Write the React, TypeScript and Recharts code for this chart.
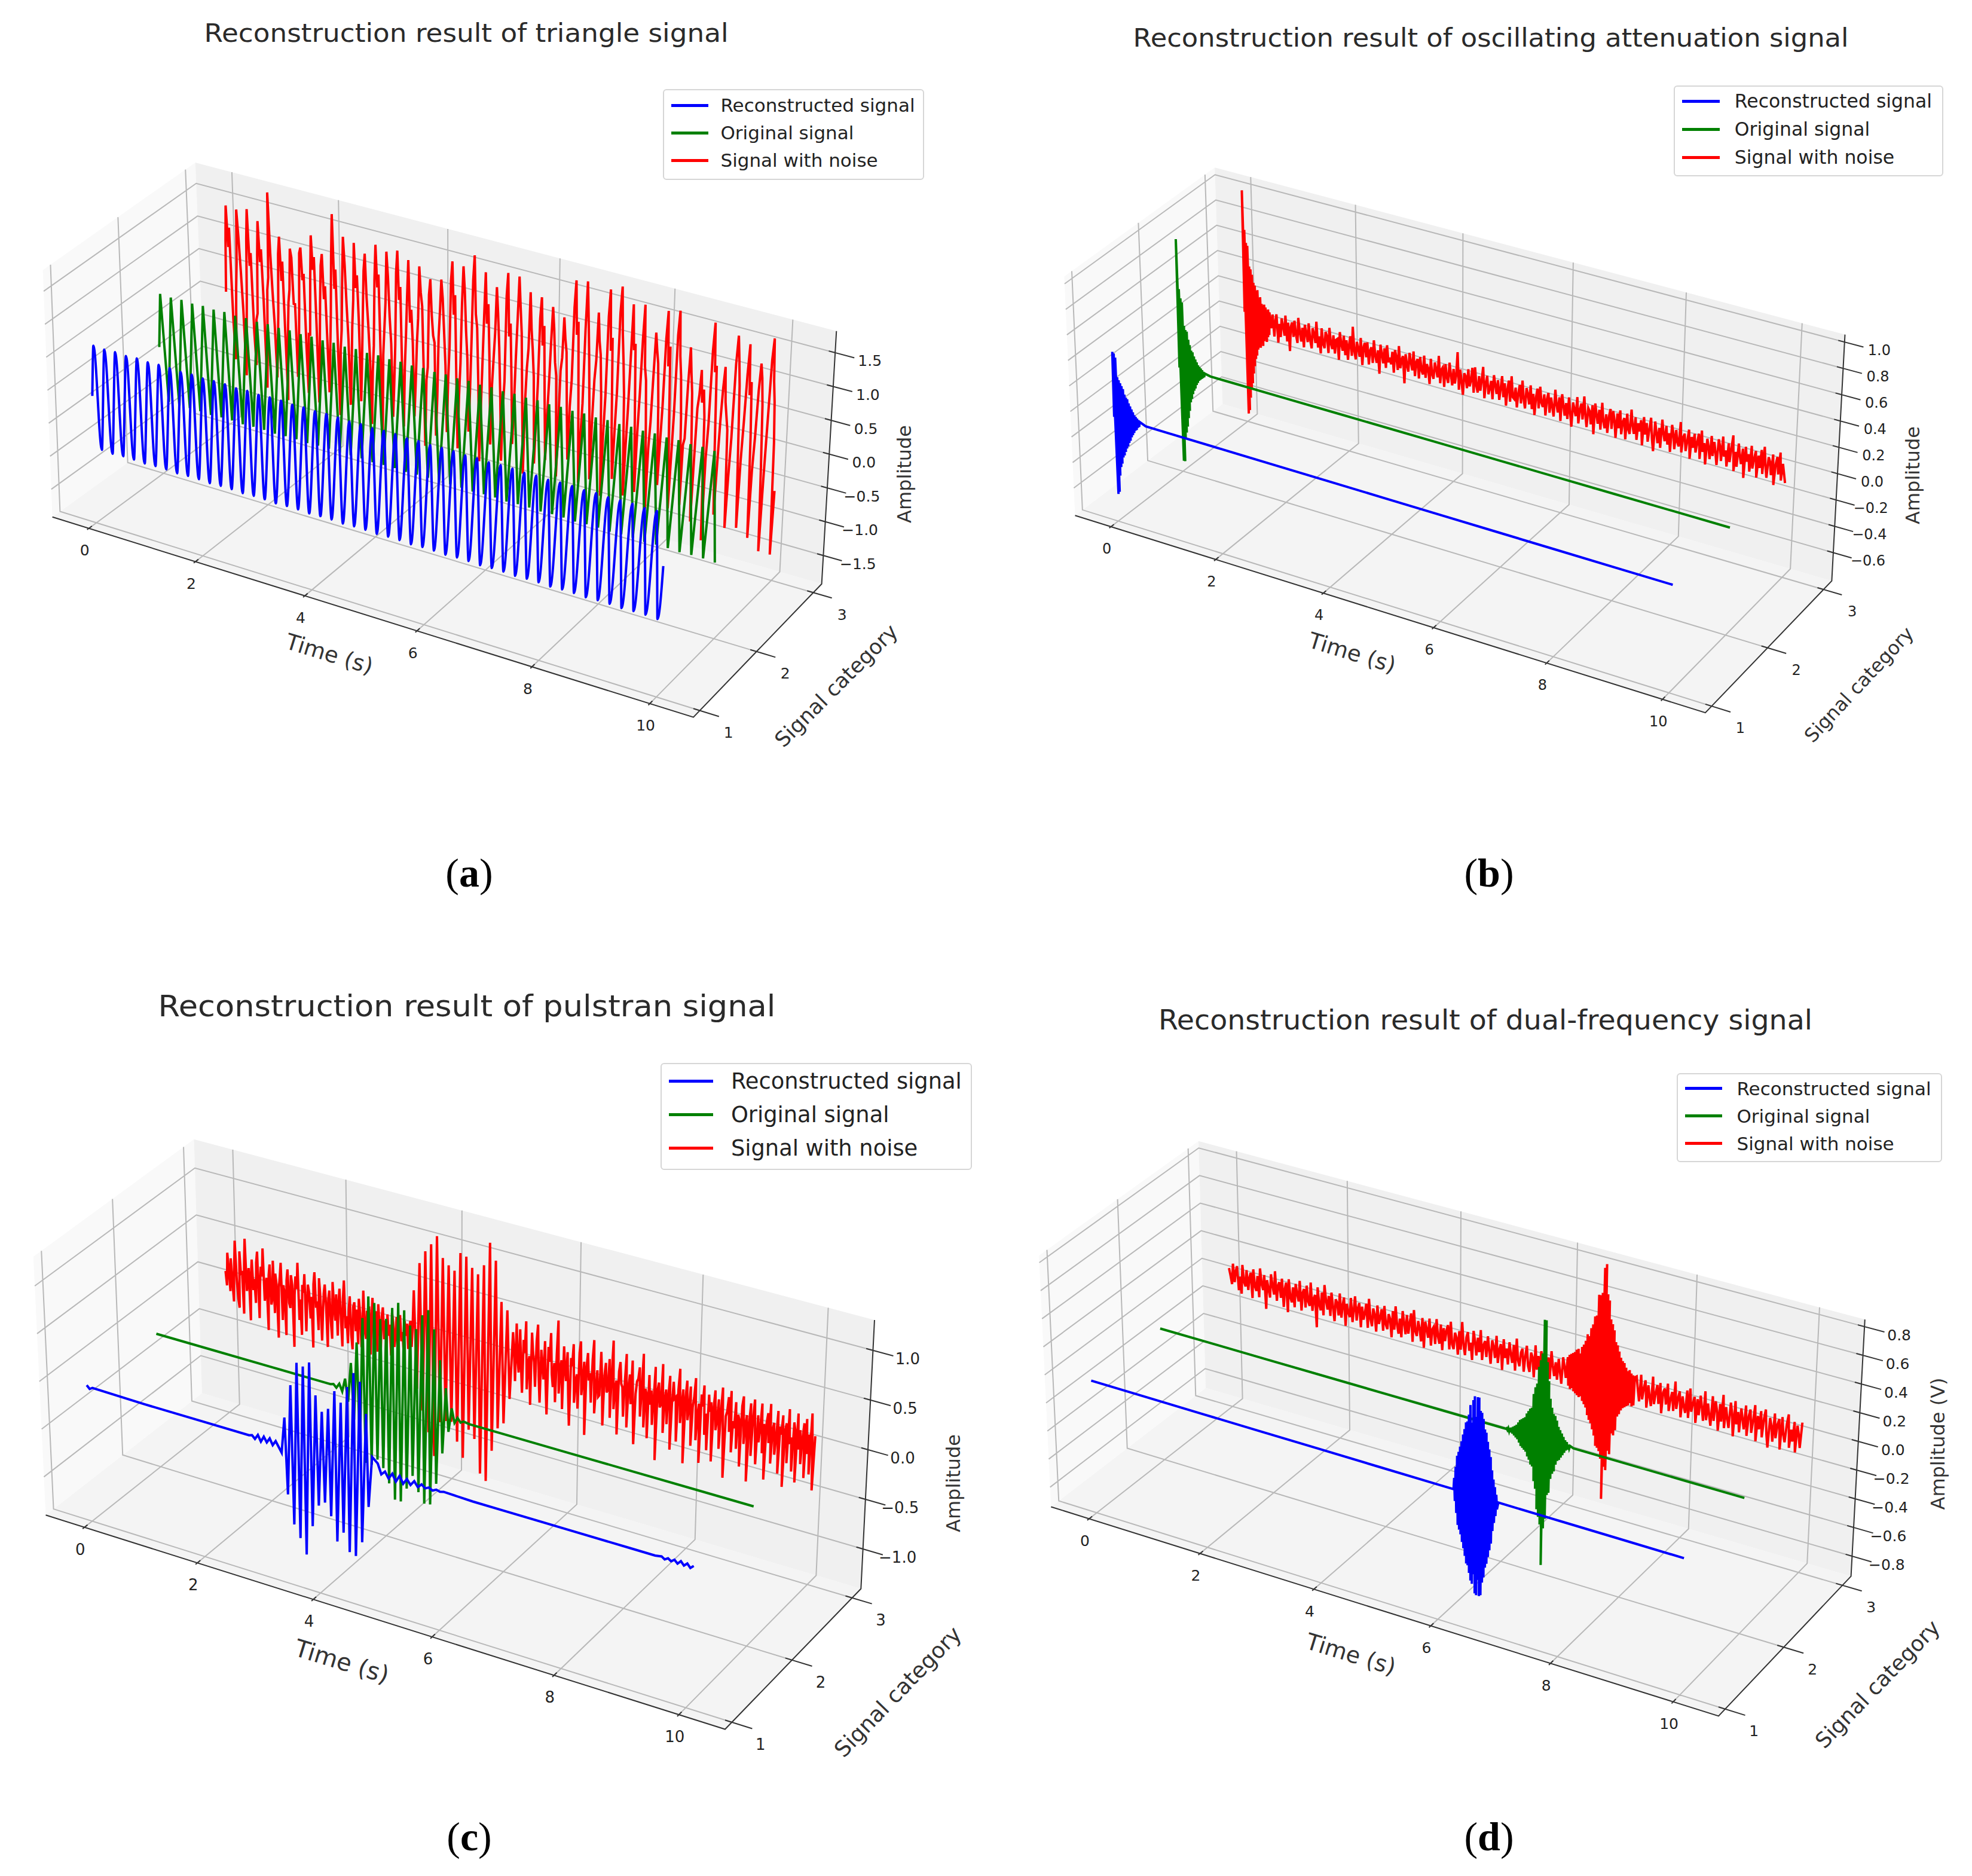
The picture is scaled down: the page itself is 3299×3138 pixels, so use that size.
import React from 'react';
import { LineChart, Line, XAxis, YAxis, Legend, Customized } from 'recharts';

type Pt = { t: number; a: number };
const seg = (from: number, step: number, values: number[]): Pt[] =>
  values.map((a, i) => ({ t: from + i * step, a }));

const seriesNames = ['Reconstructed signal', 'Original signal', 'Signal with noise'];
const seriesColors = ['#0000ff', '#008000', '#ff0000'];
const timeTicks = [0, 2, 4, 6, 8, 10];
const categoryTicks = [1, 2, 3];

// (a) triangle: one value per half period
const triangleBlue = [
  .77,-.78,.76,-.79,.77,-.78,.76,-.78,.77,-.79,.76,-.78,.77,-.78,.77,-.79,.76,-.78,.77,-.78,
  .76,-.79,.77,-.78,.77,-.78,.76,-.79,.77,-.78,.76,-.78,.77,-.79,.77,-.78,.76,-.78,.77,-.79,
  .76,-.78,.77,-.78,.77,-.79,.76,-.78,.77,-.78,.76,-.79,.77,-.78,.77,-.78,.76,-.79,.77,-.78,
  .76,-.78,.77,-.79,.77,-.78,.76,-.78,.77,-.79,.76,-.78,.77,-.78,.77,-.79,.76,-.78,.77,-.78,
  .76,-.79,.77,-.78,.77,-.78,.76,-.79,.77,-.78,.76,-.78,.77,-.79,.77,-.78,.76,-.78,.77,-.79,
];
const triangleGreen = [
  .82,-.8,.81,-.81,.82,-.8,.81,-.8,.82,-.81,.81,-.8,.82,-.8,.81,-.81,.82,-.8,.81,-.8,
  .82,-.81,.81,-.8,.82,-.8,.81,-.81,.82,-.8,.81,-.8,.82,-.81,.81,-.8,.82,-.8,.81,-.81,
  .82,-.8,.81,-.8,.82,-.81,.81,-.8,.82,-.8,.81,-.81,.82,-.8,.81,-.8,.82,-.81,.81,-.8,
  .82,-.8,.81,-.81,.82,-.8,.81,-.8,.82,-.81,.81,-.8,.82,-.8,.81,-.81,.82,-.8,.81,-.8,
  .82,-.81,.81,-.8,.82,-.8,.81,-.81,.82,-.8,.81,-.8,.82,-.81,.81,-.8,.82,-.8,.81,-.81,
];
// eight samples per period, peak on the third and trough on the seventh
const triangleRed = [
  .1,.9,1.43,.8,1.1,-.3,-.9,-.4, .2,.6,1.41,1,.5,-.1,-1.1,-.5, .1,1,1.46,.6,.8,-.4,-.9,-.2, -.1,.8,1.32,.7,.9,.1,-1.2,-.6,
  .3,.5,1.8,.9,.3,-.2,-1,-.5, 0,.9,1.17,.5,.8,-.3,-1.3,-.3, .2,.4,1.03,.9,.2,.2,-.9,-.6, .1,1,1.09,.6,.7,-.4,-1.1,-.2,
  -.2,.7,1.32,.8,1,0,-1.2,-.5, .3,.9,1.08,.4,.6,-.2,-1,-.4, .2,1.1,1.73,.6,.9,-.3,-1.3,-.3, 0,.8,1.43,1,.4,-.1,-1.1,-.6,
  .1,.5,1.38,.7,.9,.2,-1,-.4, .3,1,1.26,.6,.2,-.3,-1.3,-.5, -.1,.9,1.44,.8,1,-.2,-1.4,-.2, .2,.6,1.38,1,.4,0,-1.1,-.6,
  0,1.1,1.44,.7,.9,-.4,-1.2,-.3, .2,.8,1.34,.4,.6,.1,-1,-.5, .1,.5,1.29,.9,.7,-.3,-1.4,-.4, -.2,.9,1.14,.6,.3,.2,-1.2,-.6,
  .3,.7,1.18,.9,.4,-.1,-1.1,-.3, .2,1.2,1.5,.7,1,-.3,-1.3,-.5, 0,.9,1.47,1.1,.5,.1,-1,-.4, .4,1.3,1.68,.8,.6,-.2,-1.4,-.6,
  .1,.8,1.47,.7,1,.2,-1.1,-.2, .2,.6,1.29,.9,.4,-.3,-1.3,-.5, -.1,1.2,1.55,.6,.8,0,-1,-.4, .3,.9,1.54,1.1,.7,-.4,-1.4,-.3,
  .2,.5,1.35,.8,.5,.1,-1.2,-.6, 0,1,1.32,.6,.9,-.2,-1.1,-.4, .1,.7,1.22,.9,.4,.2,-1.3,-.5, .3,.5,1.11,.8,.6,-.3,-1,-.2,
  .2,1.3,1.71,.9,1.1,0,-1.3,-.6, -.1,1,1.74,1.2,.6,-.2,-1.2,-.3, .3,.6,1.32,.9,.7,.1,-1.4,-.5, .1,1.3,1.71,.8,1,-.4,-1.1,-.4,
  .2,1.4,1.8,1.1,.7,.2,-1.3,-.6, 0,.8,1.58,.9,1,-.1,-1.2,-.3, .3,1.1,1.62,.7,.5,-.3,-1.4,-.5, -.1,.6,1.25,1,.8,.2,-1,-.4,
  .2,1.2,1.62,.8,1.1,-.2,-1.3,-.6, .1,1.3,1.67,1,.7,.1,-1.2,-.3, -.2,.6,1.17,.8,.5,-.4,-1.4,-.5, .3,.5,.88,.4,.6,.2,-1.63,-.4,
  .1,1.2,1.63,.9,1,-.3,-1.2,-.5, .2,.7,1.02,.5,.3,.1,-1.35,-.6, 0,1.1,1.53,1.2,.8,-.2,-1.3,-.3, .3,1,1.45,.7,.9,.1,-1.4,-.4,
  .1,.8,1.21,1,.6,-.3,-1.55,-.5, .4,1.3,1.63,1,.7,.1,-1.55,-.6,
];

// (b) oscillating attenuation
const decayBlue = [
  0,.51,-.6,.5,-.58,.47,-.45,.32,-.38,.3,-.35,.28,-.3,.26,-.28,.24,-.25,.2,-.22,.18,
  -.2,.17,-.17,.14,-.15,.12,-.12,.1,-.1,.08,-.08,.06,-.06,.05,-.05,.04,-.03,.03,-.02,.02,
];
const decayGreen = [
  0,1.01,-.73,.62,-.73,.55,-.55,.52,-.5,.34,-.45,.31,-.38,.3,-.32,.24,-.25,.2,-.22,.16,
  -.18,.15,-.15,.12,-.13,.1,-.1,.08,-.08,.06,-.06,.05,-.05,.04,-.04,.03,-.03,.02,-.02,.01,
];
const decayRedBurst = [
  .05,1.01,-.75,.7,-.72,.6,-.62,.58,-.55,.42,-.5,.4,-.42,.36,-.36,.3,-.3,.28,-.27,.24,
  -.22,.25,-.2,.18,-.2,.2,-.16,.15,-.18,.14,-.14,.15,-.12,.13,-.14,.1,-.1,.12,-.08,.1,
];
const decayRedTail = [
  .06,-.02,.09,-.08,.04,.1,-.12,.03,-.07,.08,.02,-.05,.11,-.09,.06,-.16,.03,.07,-.04,.09,
  -.02,-.08,.12,.01,-.06,.05,-.1,.08,.02,-.05,.1,-.03,-.09,.07,.03,-.04,.13,-.07,.02,-.11,
  .09,-.03,-.06,.07,.04,-.09,.11,-.01,-.05,.06,-.08,.03,.04,-.12,.1,.01,-.04,.08,-.07,.05,
  -.1,.02,.09,-.06,.17,-.02,-.08,.06,.01,-.05,.1,-.11,.03,.07,-.04,.08,-.09,.02,.05,-.07,
  .11,-.01,-.06,.04,-.14,.09,.02,-.05,.07,-.08,.1,-.03,.01,-.04,.06,-.1,.08,.03,-.07,.12,
  -.05,.02,.05,-.16,.07,-.01,-.06,.09,.02,-.04,.11,-.08,.03,.06,-.09,.08,-.02,-.05,.1,-.07,
  .04,.01,-.11,.09,-.03,-.06,.07,.02,-.04,.13,-.08,.03,.05,-.1,.08,-.02,-.06,.1,.01,-.07,
  .06,-.05,.02,.2,-.09,.07,-.02,-.12,.05,.03,-.06,.09,-.04,.01,.11,-.08,.12,-.02,-.07,.06,
  -.05,.04,.14,-.1,.02,.08,-.06,-.01,.05,-.09,.1,.03,-.04,.07,-.08,.01,.11,-.05,.06,-.11,
  .02,.09,-.07,.13,-.03,-.04,.05,-.1,.01,.08,-.06,.12,-.02,-.09,.07,.03,-.05,.1,-.08,.04,
  -.12,.02,.09,-.06,.11,-.01,-.04,.06,-.1,.03,.08,-.07,.05,-.02,-.09,.12,.01,-.05,.07,-.11,
  .1,.02,-.06,.04,-.08,.09,-.03,-.13,.06,.01,-.04,.11,-.09,.02,.07,-.05,.13,-.01,-.1,.05,
  .03,-.07,.08,-.14,.1,.02,-.05,.06,-.09,.12,-.02,-.07,.04,-.1,.03,.09,-.06,.08,.01,-.12,
  .07,-.04,.1,-.08,.02,.05,-.11,.09,-.03,-.06,.13,.01,-.05,.08,-.09,.04,-.02,.07,-.12,.1,
  -.03,.06,-.08,.02,.11,-.05,-.14,.09,.01,-.07,.05,-.1,.12,.02,-.04,.08,-.06,.03,-.11,.1,
  .04,-.08,.07,-.02,-.05,.14,-.09,.03,.06,-.07,.01,.1,-.12,.05,-.03,.08,-.06,.02,.09,-.1,
  .12,-.04,.03,-.13,.07,.01,-.08,.1,-.05,.06,-.02,-.11,.09,.04,-.07,.12,-.03,.02,-.1,.08,
  -.06,.05,.15,-.12,.03,-.08,.1,.01,-.05,.07,-.15,.09,-.02,.04,-.09,.11,-.06,.02,.08,-.12,
  .05,-.04,.1,-.08,.13,-.01,-.1,.06,.03,-.07,.09,-.14,.02,.08,-.05,.12,-.09,.04,-.03,-.1,
];

// (c) pulstran
const pulseBluePre = [.01,-.02,.03,-.03,.03,-.02,.03,-.03,.02,-.03,-.08];
const pulseBlueBurst = [
  .29,-.49,.64,-.78,.89,-.9,.87,-1.05,.93,-.74,.61,-.51,.46,-.46,.51,-.58,.71,-.82,.61,-.71,
  .79,-.89,.95,-.91,.88,-.75,.57,-.37,.15,
];
const pulseBluePost = [.1,0,.04,-.02,.04,-.03,.04,-.03,.03,-.02,.03,-.02,.02,-.01,.01,-.01,.01,0,.01];
const pulseBlueEnd = [.01,-.01,.01,-.01,.015,-.015,.02,-.015,.015,-.02,.01];
const pulseGreenBurst = [
  .01,-.02,.03,-.04,.1,-.13,.28,-.3,.51,-.58,.78,-.71,1.02,-.71,.97,-.64,.82,-.71,.84,-.85,
  .97,-1,1.04,-1,.98,-.85,.84,-.7,.82,-.85,.98,-.95,1.05,-.94,.87,-.71,.57,-.38,.3,-.14,
  .11,-.03,.03,-.01,.01,
];
const pulseRedPre = [
  .1,-.05,.3,.12,-.1,.25,.02,-.2,.18,.45,.05,-.15,-.25,.35,.1,.15,-.3,.22,.5,-.05,
  .08,.2,-.35,.12,.3,-.02,.1,-.15,.28,.4,-.3,.05,.25,.15,.45,-.1,.02,.15,-.4,.18,
  .3,-.12,-.05,.35,-.2,.22,.1,-.45,.08,.2,.35,-.25,.12,.05,-.4,.18,.3,-.05,-.1,.25,
  .15,-.5,.05,.25,.12,.4,-.2,.02,-.35,.18,.1,.3,-.3,-.02,.2,.12,-.15,.08,-.45,.22,
  .35,-.02,.05,-.25,.3,.1,-.35,-.08,.15,.25,.02,-.4,.1,.2,-.12,-.3,.3,.05,-.1,.18,
  -.25,.08,.25,-.05,-.35,.15,.35,-.15,-.02,-.3,.05,.2,-.2,-.35,.1,.15,-.15,.08,-.28,.2,
  .05,-.3,-.08,.3,-.12,-.2,.1,-.05,.15,-.35,.02,.25,-.18,-.05,.12,-.3,.2,-.02,-.25,.08,
  .18,-.15,.05,-.28,.12,-.1,.02,-.3,.15,.05,-.2,-.08,.12,-.25,.05,.15,-.12,-.02,-.22,.1,
  -.05,.08,-.18,.05,.12,-.15,.1,
];
const pulseRedBurst = [
  .45,-.57,.75,-.78,.89,-.99,.98,-1.22,1.08,-.85,.87,-.82,.81,-.81,.77,-1,.97,-1.15,.95,-.84,
  .85,-.92,.8,-1.26,.91,-1.32,1.16,-.99,.99,-.74,.58,-.67,.51,-.4,
];
const pulseRedPost = [
  .3,.1,-.2,.4,.05,-.1,.35,-.02,-.3,.25,.12,.45,-.25,.02,.1,-.4,.35,.15,.05,-.2,
  .28,.45,-.08,-.35,.2,.05,-.1,.3,-.15,-.45,.25,.1,.4,-.02,-.15,.1,-.3,.2,.55,-.2,
  .05,.15,-.35,.3,.08,-.05,.25,-.18,-.5,.2,.12,.35,-.25,-.02,.05,-.3,.28,.4,-.15,.02,
  .2,-.55,.15,.3,.02,.1,-.2,.25,.45,-.3,-.05,.15,-.12,-.1,.35,.08,-.4,.12,.25,-.05,
  -.02,.3,-.3,.15,.5,-.2,.02,.1,-.45,.2,.3,.08,.05,-.25,.12,.4,-.35,.05,.2,-.1,
  .35,-.12,-.5,.02,.15,.18,.3,-.2,.08,.45,-.3,.1,.05,-.4,.25,-.05,.1,-.25,.02,.35,
  -.6,.12,.2,-.05,-.02,.4,-.3,.05,.15,-.2,.1,.3,-.45,.02,.25,.08,.1,-.35,.18,.4,
  -.15,.05,.2,-.55,.12,.3,-.1,.02,.25,-.35,.05,.15,.35,-.28,-.02,.1,-.5,.2,.08,.3,
  -.2,.02,-.35,.22,.05,.15,-.45,.1,.28,-.12,-.02,.2,-.3,.08,.33,-.15,-.58,.05,.1,.25,
  -.1,.32,-.3,.02,-.05,.22,-.25,.1,.05,-.42,.2,.3,-.18,.02,.12,-.55,.05,.25,-.28,.1,
  .3,-.05,-.35,.15,-.12,.02,.28,-.22,.08,-.48,.1,.2,-.1,.3,-.3,.05,.12,-.2,-.02,.25,
  -.38,.1,.02,.22,-.5,.08,.15,-.25,.3,-.05,.02,-.32,.18,.1,-.42,.28,-.08,.12,-.22,.05,
  .2,-.35,.25,-.1,.1,-.3,.32,.02,-.45,.1,
];

// (d) dual frequency
const dualBlueBurst = [
  .08,-.08,.16,-.16,.24,-.24,.27,-.27,.31,-.3,.35,-.35,.4,-.39,.44,-.44,.49,-.49,.5,-.5,
  .55,-.55,.62,-.6,.5,-.62,.66,-.55,.69,-.68,.55,-.69,.69,-.58,.69,-.69,.6,-.68,.59,-.59,
  .55,-.55,.48,-.48,.46,-.45,.4,-.4,.35,-.35,.3,-.3,.21,-.21,.15,-.15,.1,-.1,.05,-.05,
];
const dualGreenBurst = [
  .005,-.005,.01,-.01,.015,-.015,.02,-.02,.03,-.03,.04,-.04,.05,-.05,.07,-.07,.09,-.09,.1,-.1,
  .11,-.11,.12,-.12,.15,-.15,.17,-.17,.19,-.2,.2,-.21,.3,-.31,.35,-.36,.38,-.5,.5,-.55,
  .55,-.6,.6,-.88,.84,-.62,.84,-.55,.55,-.38,.42,-.36,.3,-.26,.24,-.22,.2,-.2,.19,-.15,
  .16,-.12,.12,-.11,.1,-.09,.08,-.07,.06,-.05,.04,-.03,.03,-.02,.015,-.01,.01,
];
const dualRedPre = [
  .06,.01,-.05,.1,-.03,.05,.09,-.08,.02,-.1,.11,-.01,-.04,.08,-.06,.03,.07,-.11,.1,-.02,
  -.05,.06,-.09,.12,.01,-.03,.08,-.16,.05,-.01,-.07,.1,.02,-.04,.13,-.08,.03,.06,-.05,.09,
  -.11,.02,.07,-.14,.1,-.03,-.06,.05,-.09,.08,.01,-.04,.11,-.1,.03,.06,-.07,.09,-.02,-.05,
  .12,-.08,.01,.04,-.19,.1,-.02,-.06,.07,-.09,.13,.02,-.04,.06,-.08,.09,-.01,-.11,.05,.03,
  -.06,.1,-.07,.02,.08,-.12,.04,-.02,-.05,.09,-.08,.01,.11,-.06,.03,.07,-.1,.05,-.04,.01,
  .08,-.09,.12,-.02,-.07,.06,.02,-.1,.09,-.04,.01,.07,-.08,.1,-.03,-.06,.05,.02,-.11,.08,
  -.05,.12,-.01,-.07,.04,-.09,.1,.02,-.06,.08,-.05,.03,.1,-.1,.13,-.02,-.05,.06,.01,-.08,
  .09,-.12,.07,.02,-.04,.1,-.09,.03,.05,-.07,.11,-.01,-.06,.08,-.1,.06,-.03,.05,.09,-.08,
  .12,-.04,-.07,.05,.02,-.1,.07,-.06,.14,-.02,-.09,.04,.08,-.05,.01,-.11,.1,.03,-.07,.06,
  -.04,.12,-.09,.02,.05,-.06,.09,-.01,-.1,.07,.03,-.05,.11,-.08,.02,.06,-.12,.1,-.03,.04,
  -.07,.09,.01,-.05,.08,-.1,.13,-.02,-.06,.04,.07,-.09,.02,.1,-.04,-.08,.06,.03,-.11,.12,
  -.05,.05,-.07,.09,.02,-.1,.08,-.03,.06,-.09,.11,.01,-.06,.04,-.08,.07,-.02,-.1,.09,.03,
  -.05,
];
const dualRedBurst = [
  .1,-.1,.12,-.12,.13,-.11,.14,-.13,.15,-.14,.17,-.15,.18,-.16,.15,-.15,.2,-.18,.22,-.2,
  .25,-.22,.3,-.27,.29,-.3,.35,-.32,.38,-.36,.44,-.4,.45,-.47,.6,-.48,.6,-.5,.62,-.55,
  .8,-.83,.83,-.6,.62,-.62,.58,-.48,.45,-.5,.42,-.35,.38,-.36,.3,-.32,.28,-.22,.24,-.2,
  .2,-.17,.18,-.15,.17,-.14,.14,-.13,.12,-.12,.13,-.1,.11,-.12,.1,-.11,.09,
];
const dualRedPost = [
  .1,.01,-.07,.12,-.05,.03,.09,-.1,.06,-.02,-.08,.13,-.06,.02,.08,-.05,.1,-.11,.04,.07,
  -.04,.11,-.08,.01,.06,-.07,.14,-.05,.03,.08,-.1,.05,-.02,-.06,.1,-.09,.12,-.04,.02,.07,
  -.11,.06,-.05,.09,.01,-.08,.13,-.07,.05,-.03,-.1,.11,-.06,.08,.02,-.12,.07,-.05,.14,-.09,
  .06,-.02,-.08,.1,.03,-.13,.12,-.04,.05,-.09,.08,.01,-.06,.11,-.1,.04,.09,-.07,.02,.13,
  -.12,.06,-.03,.1,-.08,.05,.12,-.05,-.14,.07,.02,-.09,.11,-.06,.04,.08,-.13,.1,-.02,-.07,
  .06,.13,-.1,.03,-.05,.09,-.12,.07,.01,-.08,.1,
];

const flat = (times: number[]): Pt[] => times.map(t => ({ t, a: 0 }));

const triangleSeries: Pt[][] = [
  [...seg(0, 1, [0]), ...seg(.05, .1, triangleBlue), ...seg(10, 1, [0])],
  [...seg(0, 1, [0]), ...seg(.05, .1, triangleGreen)],
  seg(0, .025, triangleRed),
];
const decaySeries: Pt[][] = [
  [...seg(0, .0125, decayBlue), ...flat([.6, 1, 2, 3, 4, 5, 6, 7, 8, 9, 10])],
  [...seg(0, .0125, decayGreen), ...flat([.6, 1, 2, 3, 4, 5, 6, 7, 8, 9, 10])],
  [...seg(0, .0125, decayRedBurst), ...seg(.5, .025, decayRedTail)],
];
const pulseSeries: Pt[][] = [
  [
    ...seg(0, .05, [.02, -.01, .01]), ...flat([1, 2, 2.8]),
    ...seg(2.85, .05, pulseBluePre), ...seg(3.4, .052, pulseBlueBurst),
    ...seg(4.95, .06, pulseBluePost), ...flat([6.5, 7, 8, 9, 9.4]), ...seg(9.5, .05, pulseBlueEnd),
  ],
  [...flat([0, 1, 2, 3, 3.05]), ...seg(3.1, .05, pulseGreenBurst), ...flat([5.4, 6, 7, 8, 9, 10])],
  [...seg(0, .02, pulseRedPre), ...seg(3.34, .05, pulseRedBurst), ...seg(5.04, .02, pulseRedPost)],
];
const dualSeries: Pt[][] = [
  [...flat([0, 1, 2, 3, 4, 5, 6, 6.26]), ...seg(6.27, .012, dualBlueBurst), ...flat([7, 8, 9, 10])],
  [...flat([0, 1, 2, 3, 4, 5, 6, 6.07]), ...seg(6.08, .014, dualGreenBurst), ...flat([7.2, 8, 9, 10])],
  [...seg(0, .025, dualRedPre), ...seg(6.03, .015, dualRedBurst), ...seg(7.2, .025, dualRedPost)],
];

type XY = [number, number];
type Layout = {
  left: number; top: number; width: number; height: number;
  box: { A: XY; B: XY; C: XY; D: XY; At: XY; Bt: XY; Ct: XY; Dt: XY };
  amp: [number, number]; ampTicks: number[];
  title: string; titlePos: XY; titleLen: number; titleSize: number;
  legendBox: [number, number, number, number]; legendSize: number; legendRow: number; legendGap: number; tickSize: number;
  timeLabel: XY; timeSize: number; timeRot: number;
  catLabel: XY; catSize: number; catRot: number;
  ampLabel: XY; ampSize: number; ampText: string;
  tag: string; tagPos: XY;
  series: Pt[][]; curve: string[];
};

const panels: Layout[] = [
  {
    left: 0, top: 0, width: 1650, height: 1569,
    box: { A: [87.6, 864.7], B: [1160, 1199.7], C: [1374.6, 976.7], D: [343.6, 679.8], At: [71.7, 451.8], Bt: [1185.6, 771.8], Ct: [1399.3, 553.8], Dt: [326.8, 271.9] },
    amp: [-1.92, 1.82], ampTicks: [-1.5, -1, -.5, 0, .5, 1, 1.5],
    title: 'Reconstruction result of triangle signal', titlePos: [780, 55], titleLen: 877, titleSize: 43,
    legendBox: [1109, 149, 437, 152], legendSize: 31, legendRow: 46, legendGap: 0, tickSize: 25,
    timeLabel: [551, 1094], timeSize: 37, timeRot: 17,
    catLabel: [1399, 1147], catSize: 35, catRot: -45,
    ampLabel: [1513, 793], ampSize: 32, ampText: 'Amplitude',
    tag: 'a', tagPos: [785, 1460],
    series: triangleSeries, curve: ['monotone', 'linear', 'linear'],
  },
  {
    left: 1650, top: 0, width: 1649, height: 1569,
    box: { A: [1798.5, 862.2], B: [2852.9, 1192.2], C: [3064.4, 971.7], D: [2045.3, 675.7], At: [1780.4, 462.6], Bt: [2870, 776], Ct: [3086.5, 559.6], Dt: [2032.2, 280.2] },
    amp: [-.815, 1.057], ampTicks: [-.6, -.4, -.2, 0, .2, .4, .6, .8, 1],
    title: 'Reconstruction result of oscillating attenuation signal', titlePos: [2494, 63], titleLen: 1197, titleSize: 43,
    legendBox: [2800, 143, 451, 152], legendSize: 31.5, legendRow: 47, legendGap: 4, tickSize: 24,
    timeLabel: [2262, 1092], timeSize: 37, timeRot: 17,
    catLabel: [3110, 1145], catSize: 32, catRot: -47,
    ampLabel: [3200, 795], ampSize: 32, ampText: 'Amplitude',
    tag: 'b', tagPos: [2491, 1460],
    series: decaySeries, curve: ['linear', 'linear', 'linear'],
  },
  {
    left: 0, top: 1569, width: 1650, height: 1569,
    box: { A: [76.5, 2534.3], B: [1213, 2892.5], C: [1440.3, 2657.5], D: [337.9, 2330.3], At: [55.8, 2102.1], Bt: [1242.4, 2435.3], Ct: [1463, 2208], Dt: [324.5, 1905.8] },
    amp: [-1.4, 1.306], ampTicks: [-1, -.5, 0, .5, 1],
    title: 'Reconstruction result of pulstran signal', titlePos: [781, 1683], titleLen: 1033, titleSize: 50,
    legendBox: [1105, 1778, 521, 179], legendSize: 36.8, legendRow: 56, legendGap: 6, tickSize: 26,
    timeLabel: [572, 2779], timeSize: 40, timeRot: 17,
    catLabel: [1502, 2830], catSize: 36.7, catRot: -46,
    ampLabel: [1595, 2481], ampSize: 32, ampText: 'Amplitude',
    tag: 'c', tagPos: [785, 3072],
    series: pulseSeries, curve: ['linear', 'linear', 'linear'],
  },
  {
    left: 1650, top: 1569, width: 1649, height: 1569,
    box: { A: [1758.3, 2520.5], B: [2875, 2870.4], C: [3096.6, 2636.6], D: [2017.1, 2321.6], At: [1738.1, 2100.2], Bt: [2890.1, 2433.5], Ct: [3119.8, 2207.1], Dt: [2005, 1908.7] },
    amp: [-.94, .85], ampTicks: [-.8, -.6, -.4, -.2, 0, .2, .4, .6, .8],
    title: 'Reconstruction result of dual-frequency signal', titlePos: [2485, 1706], titleLen: 1094, titleSize: 46,
    legendBox: [2805, 1795, 444, 149], legendSize: 31, legendRow: 46, legendGap: 4, tickSize: 25,
    timeLabel: [2260, 2767], timeSize: 38, timeRot: 17,
    catLabel: [3141, 2817], catSize: 36, catRot: -46,
    ampLabel: [3242, 2415], ampSize: 32, ampText: 'Amplitude (V)',
    tag: 'd', tagPos: [2491, 3072],
    series: dualSeries, curve: ['linear', 'linear', 'linear'],
  },
];

// matplotlib's 3D box: fractions along the time and category edges
const timeFrac = (t: number) => .057 + .082 * t + .00055 * t * t;
const catFrac = (c: number) => .05 + .4425 * (c - 1);

const toScreen = (p: Layout, u: number, v: number, w: number): XY => {
  const { A, B, C, D, At, Bt, Ct, Dt } = p.box;
  const mix = (k: number) => {
    const lo = (1 - u) * (1 - v) * A[k] + u * (1 - v) * B[k] + u * v * C[k] + (1 - u) * v * D[k];
    const hi = (1 - u) * (1 - v) * At[k] + u * (1 - v) * Bt[k] + u * v * Ct[k] + (1 - u) * v * Dt[k];
    return lo + (hi - lo) * w;
  };
  return [mix(0) - p.left, mix(1) - p.top];
};

const segmentsToRows = (p: Layout, segs: [number, number, number][][]) => {
  const rows: { x: number; y: number | null }[] = [];
  segs.forEach(s => {
    s.forEach(([u, v, w]) => {
      const [x, y] = toScreen(p, u, v, w);
      rows.push({ x, y });
    });
    rows.push({ x: rows[rows.length - 1].x, y: null });
  });
  return rows;
};

const Backdrop = ({ p }: { p: Layout }) => {
  const ampFrac = (a: number) => (a - p.amp[0]) / (p.amp[1] - p.amp[0]);
  const poly = (pts: [number, number, number][]) => pts.map(q => toScreen(p, q[0], q[1], q[2]).join(',')).join(' ');
  const font = 'DejaVu Sans';
  const [tx, ty] = [p.titlePos[0] - p.left, p.titlePos[1] - p.top];
  return (
    <g>
      <polygon points={poly([[0, 0, 0], [1, 0, 0], [1, 1, 0], [0, 1, 0]])} fill="#f4f4f4" />
      <polygon points={poly([[0, 0, 0], [0, 1, 0], [0, 1, 1], [0, 0, 1]])} fill="#f9f9f9" />
      <polygon points={poly([[0, 1, 0], [1, 1, 0], [1, 1, 1], [0, 1, 1]])} fill="#f0f0f0" />
      <text x={tx} y={ty} textAnchor="middle" dominantBaseline="central" fontFamily={font} fontSize={p.titleSize}
        textLength={p.titleLen} lengthAdjust="spacingAndGlyphs" fill="#2a2a2a">{p.title}</text>
      {timeTicks.map(t => {
        const [x, y] = toScreen(p, timeFrac(t), 0, 0);
        return <text key={t} x={x - 7} y={y + 37} textAnchor="middle" dominantBaseline="central" fontFamily={font} fontSize={p.tickSize} fill="#222">{t}</text>;
      })}
      {categoryTicks.map(c => {
        const [x, y] = toScreen(p, 1, catFrac(c), 0);
        return <text key={c} x={x + 48} y={y + 37} textAnchor="middle" dominantBaseline="central" fontFamily={font} fontSize={p.tickSize} fill="#222">{c}</text>;
      })}
      {p.ampTicks.map(a => {
        const [x, y] = toScreen(p, 1, 1, ampFrac(a));
        return <text key={a} x={x + 58} y={y + 14} textAnchor="middle" dominantBaseline="central" fontFamily={font} fontSize={p.tickSize} fill="#222">{a.toFixed(1).replace('-', '\u2212')}</text>;
      })}
      <text transform={`translate(${p.timeLabel[0] - p.left},${p.timeLabel[1] - p.top}) rotate(${p.timeRot})`} textAnchor="middle" dominantBaseline="central" fontFamily={font} fontSize={p.timeSize} fill="#333">Time (s)</text>
      <text transform={`translate(${p.catLabel[0] - p.left},${p.catLabel[1] - p.top}) rotate(${p.catRot})`} textAnchor="middle" dominantBaseline="central" fontFamily={font} fontSize={p.catSize} fill="#333">Signal category</text>
      <text transform={`translate(${p.ampLabel[0] - p.left},${p.ampLabel[1] - p.top}) rotate(-90)`} textAnchor="middle" dominantBaseline="central" fontFamily={font} fontSize={p.ampSize} fill="#333">{p.ampText}</text>
      <text x={p.tagPos[0] - p.left} y={p.tagPos[1] - p.top} textAnchor="middle" dominantBaseline="central" fontFamily="Liberation Serif" fontSize={68} fill="#000">
        (<tspan fontWeight="bold">{p.tag}</tspan>)
      </text>
    </g>
  );
};

const LegendBox = ({ p }: { p: Layout }) => {
  const [, , w, h] = p.legendBox;
  const order = [0, 1, 2];
  return (
    <div style={{ position: 'absolute', left: 0, top: 0, width: w, height: h, boxSizing: 'border-box', background: '#fff', border: '2px solid #d6d6d6', borderRadius: 6, paddingTop: (h - 3 * p.legendRow) / 2 - 5, fontFamily: 'DejaVu Sans', fontSize: p.legendSize, color: '#222' }}>
      {order.map(i => (
        <div key={i} style={{ height: p.legendRow, display: 'flex', alignItems: 'center', paddingLeft: 12 }}>
          <span style={{ width: p.legendSize * 2, height: 5, background: seriesColors[i], marginRight: p.legendSize * .66 + p.legendGap, flex: 'none' }} />
          <span style={{ whiteSpace: 'nowrap' }}>{seriesNames[i]}</span>
        </div>
      ))}
    </div>
  );
};

const Panel = ({ p }: { p: Layout }) => {
  const ampFrac = (a: number) => (a - p.amp[0]) / (p.amp[1] - p.amp[0]);
  const grid = segmentsToRows(p, [
    ...timeTicks.map(t => [[timeFrac(t), 0, 0], [timeFrac(t), 1, 0], [timeFrac(t), 1, 1]] as [number, number, number][]),
    ...categoryTicks.map(c => [[1, catFrac(c), 0], [0, catFrac(c), 0], [0, catFrac(c), 1]] as [number, number, number][]),
    ...p.ampTicks.map(a => [[0, 0, ampFrac(a)], [0, 1, ampFrac(a)], [1, 1, ampFrac(a)]] as [number, number, number][]),
  ]);
  const axes = segmentsToRows(p, [
    [[0, 0, 0], [1, 0, 0], [1, 1, 0], [1, 1, 1]],
    ...timeTicks.map(t => [[timeFrac(t), -.012, 0], [timeFrac(t), .02, 0]] as [number, number, number][]),
    ...categoryTicks.map(c => [[.99, catFrac(c), 0], [1.03, catFrac(c), 0]] as [number, number, number][]),
    ...p.ampTicks.map(a => [[.99, 1, ampFrac(a)], [1.03, 1, ampFrac(a)]] as [number, number, number][]),
  ]);
  const seriesRows = p.series.map((s, i) => s.map(d => {
    const [x, y] = toScreen(p, timeFrac(d.t), catFrac(i + 1), ampFrac(d.a));
    return { x, y };
  }));
  const [lx, ly] = p.legendBox;
  return (
    <div style={{ position: 'absolute', left: p.left, top: p.top }}>
      <LineChart width={p.width} height={p.height} margin={{ top: 0, right: 0, bottom: 0, left: 0 }}>
        <XAxis dataKey="x" type="number" domain={[0, p.width]} allowDataOverflow hide />
        <YAxis type="number" domain={[0, p.height]} reversed allowDataOverflow hide />
        <Customized component={() => <Backdrop p={p} />} />
        <Line data={grid} dataKey="y" name="grid" stroke="#b8b8b8" strokeWidth={2} dot={false} activeDot={false} legendType="none" isAnimationActive={false} />
        <Line data={axes} dataKey="y" name="axes" stroke="#333" strokeWidth={2} dot={false} activeDot={false} legendType="none" isAnimationActive={false} />
        {[2, 1, 0].map(i => (
          <Line key={i} data={seriesRows[i]} dataKey="y" name={seriesNames[i]} type={p.curve[i] as any} stroke={seriesColors[i]} strokeWidth={4} dot={false} activeDot={false} isAnimationActive={false} />
        ))}
        {/* zero-sized wrapper so the legend takes no room from the plot area */}
        <Legend content={() => <LegendBox p={p} />} wrapperStyle={{ position: 'absolute', left: lx - p.left, top: ly - p.top, width: 0, height: 0, bottom: 'auto', overflow: 'visible' }} />
      </LineChart>
    </div>
  );
};

export default function App() {
  return (
    <div style={{ position: 'absolute', left: 0, top: 0, width: 3299, height: 3138, background: '#fff', overflow: 'hidden' }}>
      {panels.map(p => <Panel key={p.tag} p={p} />)}
    </div>
  );
}
